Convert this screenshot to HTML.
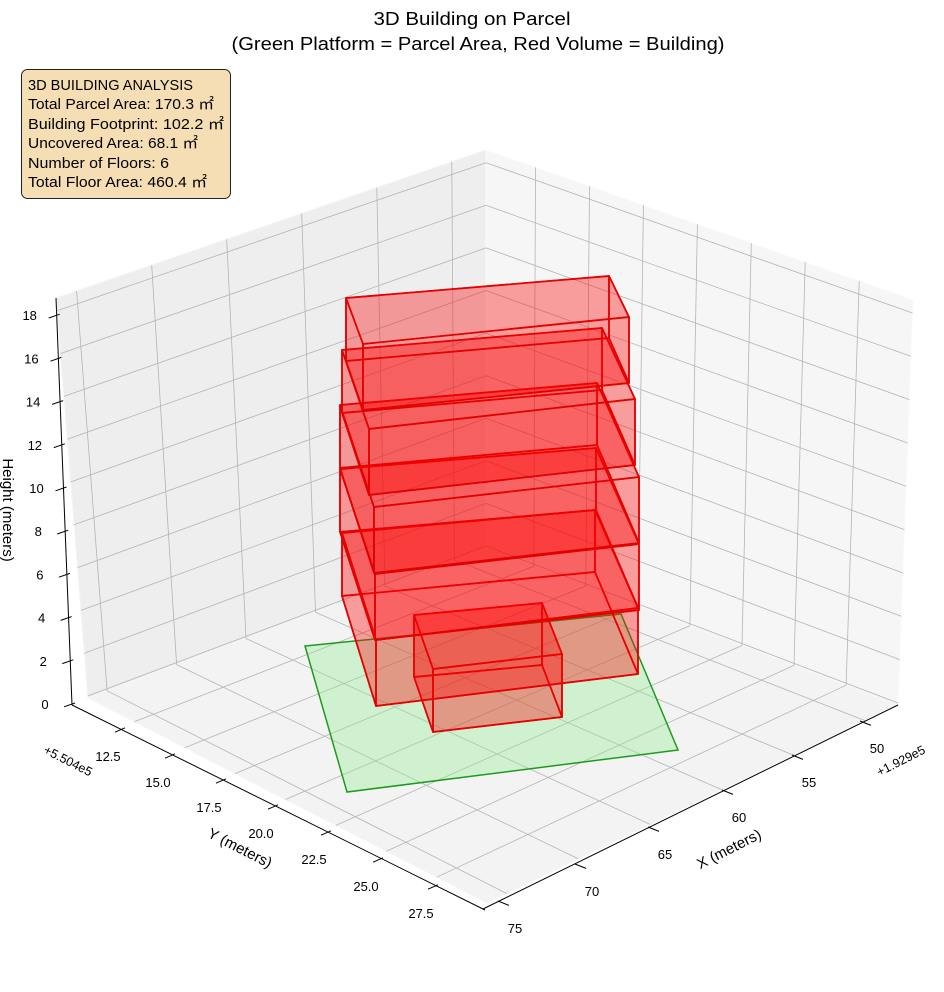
<!DOCTYPE html>
<html><head><meta charset="utf-8">
<style>
html,body{margin:0;padding:0;background:#fff;}
svg{display:block;font-family:"Liberation Sans","Noto Sans CJK JP",sans-serif;}
</style></head>
<body>
<svg id="s" width="944" height="992" viewBox="0 0 944 992" xmlns="http://www.w3.org/2000/svg">
<rect width="944" height="992" fill="#fff"/>
<g id="panes"></g>
<g id="grid" stroke="#b4b4b4" stroke-width="0.8" fill="none"></g>
<g id="axes" stroke="#000" stroke-width="1" fill="none"></g>
<g id="labels" font-size="13" fill="#000"></g>
<polygon points="305,646 621,614 678,750 347,792" fill="rgba(144,238,144,0.35)" stroke="#1f9a1f" stroke-width="1.5"/>
<g id="bld"></g>
<text x="472" y="25" font-size="18" text-anchor="middle" textLength="197" lengthAdjust="spacingAndGlyphs">3D Building on Parcel</text>
<text x="478" y="50" font-size="18" text-anchor="middle" textLength="493" lengthAdjust="spacingAndGlyphs">(Green Platform = Parcel Area, Red Volume = Building)</text>
<rect x="21.5" y="69.5" width="209" height="129" rx="6" fill="#f5deb3" stroke="#222" stroke-width="1"/>
<g font-size="15" fill="#000">
<text x="28" y="90" textLength="165" lengthAdjust="spacingAndGlyphs">3D BUILDING ANALYSIS</text>
<text x="28" y="109" textLength="186" lengthAdjust="spacingAndGlyphs">Total Parcel Area: 170.3 ㎡</text>
<text x="28" y="129" textLength="196" lengthAdjust="spacingAndGlyphs">Building Footprint: 102.2 ㎡</text>
<text x="28" y="148" textLength="170" lengthAdjust="spacingAndGlyphs">Uncovered Area: 68.1 ㎡</text>
<text x="28" y="168" textLength="141" lengthAdjust="spacingAndGlyphs">Number of Floors: 6</text>
<text x="28" y="187" textLength="179" lengthAdjust="spacingAndGlyphs">Total Floor Area: 460.4 ㎡</text>
</g>
</svg>
<script>
(function(){
var NS="http://www.w3.org/2000/svg";
function el(parent,tag,attrs,txt){var e=document.createElementNS(NS,tag);for(var k in attrs)e.setAttribute(k,attrs[k]);if(txt!==undefined)e.textContent=txt;document.getElementById(parent).appendChild(e);return e;}
var C={ "000":[486,548],"100":[88,698],"010":[898,705],"110":[487,903],
        "001":[486,150],"101":[56,298],"011":[913,300],"111":[487,480]};
function lerp(a,b,t){return [a[0]+(b[0]-a[0])*t,a[1]+(b[1]-a[1])*t];}
function P(u,v,w){
 var b0=lerp(lerp(C["000"],C["100"],u),lerp(C["010"],C["110"],u),v);
 var b1=lerp(lerp(C["001"],C["101"],u),lerp(C["011"],C["111"],u),v);
 return lerp(b0,b1,w);}
function pts(a){return a.map(function(p){return p[0].toFixed(1)+","+p[1].toFixed(1);}).join(" ");}
el("panes","polygon",{points:pts([P(1,0,0),P(0,0,0),P(0,0,1),P(1,0,1)]),fill:"#eeeeee",stroke:"#f4f4f4","stroke-width":"1"});
el("panes","polygon",{points:pts([P(0,0,0),P(0,1,0),P(0,1,1),P(0,0,1)]),fill:"#f6f6f6",stroke:"#fafafa","stroke-width":"1"});
el("panes","polygon",{points:pts([P(0,0,0),P(1,0,0),P(1,1,0),P(0,1,0)]),fill:"#f3f3f3",stroke:"#f6f6f6","stroke-width":"1"});
function U(t){return 0.0795+(t-50)*0.0349;}
function V(t){return 0.116+(t-12.5)*0.05053;}
function W(t){return 0.005+t*0.0535;}
function line(g,a,b){el(g,"line",{x1:a[0].toFixed(1),y1:a[1].toFixed(1),x2:b[0].toFixed(1),y2:b[1].toFixed(1)});}
for(var z=0;z<=18;z+=2){var w=W(z);line("grid",P(1,0,w),P(0,0,w));line("grid",P(0,0,w),P(0,1,w));}
for(var x=50;x<=75;x+=5){var u=U(x);line("grid",P(u,0,0),P(u,0,1));line("grid",P(u,0,0),P(u,1,0));}
for(var y=12.5;y<=27.5;y+=2.5){var v=V(y);line("grid",P(0,v,0),P(0,v,1));line("grid",P(0,v,0),P(1,v,0));}
line("axes",[72,705],[56,298]);
line("axes",[72,705],[485,910]);
line("axes",[483,909],[898,705]);
for(var z=0;z<=18;z+=2){var t=z/18.8;var p=[72-16*t*1.0,704-21.6*z];
 line("axes",[p[0]-8,p[1]+2.8],[p[0]+3,p[1]-1]);
 el("labels","text",{x:(p[0]-27).toFixed(1),y:(p[1]+5).toFixed(1),"text-anchor":"middle"},String(z));}
var yt=[[120,730],[170,756],[221,781],[273,807],[326,833],[378,860],[433,887]];
var yl=["12.5","15.0","17.5","20.0","22.5","25.0","27.5"];
for(var i=0;i<7;i++){var p=yt[i];line("axes",[p[0]-5,p[1]+2.2],[p[0]+5,p[1]-2.2]);
 el("labels","text",{x:(p[0]-12).toFixed(1),y:(p[1]+31).toFixed(1),"text-anchor":"middle"},yl[i]);}
var xt=[[865,723],[797,757],[727,792],[653,829],[580,866],[503,903]];
var xl=["50","55","60","65","70","75"];
for(var i=0;i<6;i++){var p=xt[i];line("axes",[p[0]-5,p[1]-2],[p[0]+6,p[1]+2.4]);
 el("labels","text",{x:(p[0]+12).toFixed(1),y:(p[1]+30).toFixed(1),"text-anchor":"middle"},xl[i]);}
el("labels","text",{x:68,y:765,"text-anchor":"middle",transform:"rotate(27 68 761)","font-size":"12.5"},"+5.504e5");
el("labels","text",{x:901,y:765,"text-anchor":"middle",transform:"rotate(-27 901 761)","font-size":"12.5"},"+1.929e5");
el("labels","text",{x:240,y:853,"text-anchor":"middle",transform:"rotate(27 240 848)","font-size":"15"},"Y (meters)");
el("labels","text",{x:729,y:854,"text-anchor":"middle",transform:"rotate(-27 729 849)","font-size":"15"},"X (meters)");
el("labels","text",{x:8,y:515,"text-anchor":"middle",transform:"rotate(90 8 510)","font-size":"15"},"Height (meters)");
var boxes=[
 [[342,533],[595,510],[638,608],[376,640]],
 [[340,469],[596,448],[639,544],[375,574]],
 [[340,405],[597,383],[639,477],[374,507]],
 [[342,350],[602,328],[635,399],[369,429]],
 [[346,298],[609,276],[629,317],[363,344]]
];
var small=[[414,615],[542,603],[562,654],[433,669]];
function drawBox(top,hs){
 var bot=top.map(function(p,i){return [p[0],p[1]+hs[i]];});
 var A=top,Bt=bot;
 var faces=[
  [Bt[0],Bt[1],Bt[2],Bt[3]],
  [A[0],A[1],Bt[1],Bt[0]],
  [A[3],A[0],Bt[0],Bt[3]],
  [A[1],A[2],Bt[2],Bt[1]],
  [A[2],A[3],Bt[3],Bt[2]],
  [A[0],A[1],A[2],A[3]]
 ];
 faces.forEach(function(f){el("bld","polygon",{points:pts(f),fill:"rgba(255,0,0,0.2)",stroke:"rgba(225,0,0,0.9)","stroke-width":"1.7","stroke-linejoin":"round"});});
}
drawBox(small,[62,62,63,63]);
boxes.forEach(function(b){drawBox(b,[63,62,66,66]);});
})();
</script>
</body></html>
